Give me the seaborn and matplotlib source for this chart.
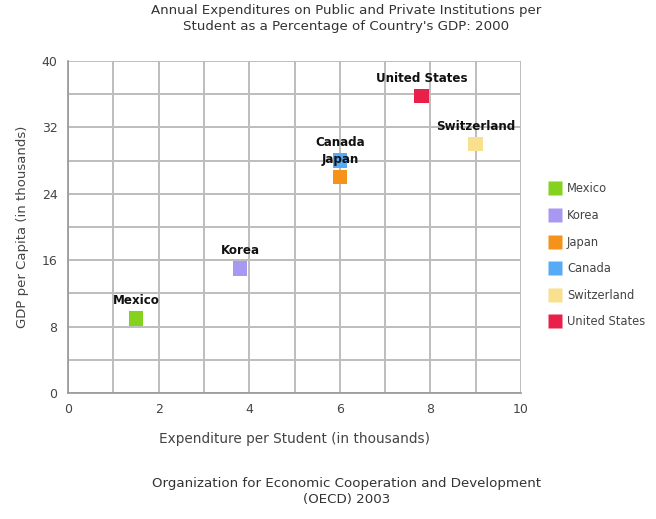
import matplotlib
matplotlib.use("Agg")
import matplotlib.pyplot as plt
import seaborn as sns
import pandas as pd

countries = ["Mexico", "Korea", "Japan", "Canada", "Switzerland", "United States"]
expenditure = [1.5, 3.8, 6.0, 6.0, 9.0, 7.8]
gdp_per_capita = [9.0, 15.0, 26.0, 28.0, 30.0, 35.8]
colors = ["#84d11e", "#a898f2", "#f4921a", "#56aaf6", "#f8e08e", "#e8204a"]
x_ticks = [0, 2, 4, 6, 8, 10]
y_ticks = [0, 8, 16, 24, 32, 40]

df = pd.DataFrame({"Country": countries, "Expenditure": expenditure, "GDP": gdp_per_capita})

sns.set_theme(style="white")
plt.rcParams["font.family"] = ["DejaVu Sans"]

fig = plt.figure(figsize=(6.56, 5.19), dpi=100)
ax = fig.add_axes([0.1037, 0.2428, 0.6905, 0.6397])

sns.scatterplot(data=df, x="Expenditure", y="GDP", hue="Country",
                hue_order=countries, palette=colors, marker="s", s=110,
                edgecolor="none", ax=ax, zorder=3, legend=False)

# labels above each marker, drawn over the markers
for name, xv, yv in zip(countries, expenditure, gdp_per_capita):
    ax.annotate(name, (xv, yv), xytext=(0, 8), textcoords="offset points",
                ha="center", va="bottom", fontsize=8.6, fontweight="bold",
                color="#111111", zorder=5)

ax.set_xlim(0, 10)
ax.set_ylim(0, 40)
ax.set_xticks(x_ticks)
ax.set_yticks(y_ticks)
ax.set_xticks(range(0, 11), minor=True)
ax.set_yticks(range(0, 41, 4), minor=True)
ax.grid(which="both", color="#bdbdbd", linewidth=1.4, zorder=0)
ax.set_axisbelow(True)
for side in ["top", "right"]:
    ax.spines[side].set_visible(False)
for side in ["left", "bottom"]:
    ax.spines[side].set_color("#9a9a9a")
ax.tick_params(axis="both", which="both", length=4, color="#9a9a9a",
               labelsize=9, labelcolor="#444444", direction="out")

ax.set_xlabel("Expenditure per Student (in thousands)", fontsize=9.8, color="#444444", labelpad=11)
ax.set_ylabel("GDP per Capita (in thousands)", fontsize=9.5, color="#444444", labelpad=9)

fig.suptitle("Annual Expenditures on Public and Private Institutions per\n"
             "Student as a Percentage of Country's GDP: 2000",
             x=0.528, y=0.993, fontsize=9.6, color="#333333", linespacing=1.3)

handles = [plt.Line2D([0], [0], marker="s", linestyle="none", markersize=10,
                      markerfacecolor=c, markeredgecolor="none") for c in colors]
fig.legend(handles, countries, loc="center left", bbox_to_anchor=(0.822, 0.508),
           frameon=False, fontsize=8.3, labelcolor="#444444",
           handletextpad=0.5, labelspacing=1.18, handlelength=1.0)

fig.text(0.528, 0.053, "Organization for Economic Cooperation and Development\n(OECD) 2003",
         ha="center", va="center", fontsize=9.6, color="#333333", linespacing=1.3)

fig.savefig("out.png", dpi=100)
